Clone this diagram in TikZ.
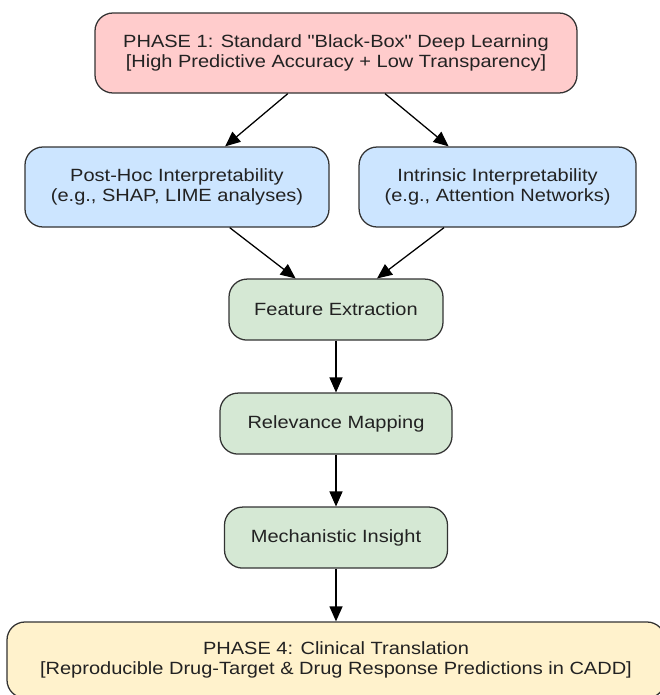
\documentclass[tikz,border=0pt]{standalone}
\usepackage{fontspec}
\setmainfont[FakeStretch=1.13,Ligatures=TeXOff]{Liberation Sans}
\usepackage{tikz}
\usetikzlibrary{arrows.meta}
\definecolor{edge}{HTML}{333333}
\definecolor{txt}{HTML}{222222}
\definecolor{pinkbg}{HTML}{FFCCCC}
\definecolor{bluebg}{HTML}{CCE5FF}
\definecolor{greenbg}{HTML}{D5E8D4}
\definecolor{yellowbg}{HTML}{FFF2CC}
\tikzstyle{box} = [draw=edge, line width=0.9pt, rounded corners=0.45cm, align=center, inner sep=0pt, text=txt, font={\fontsize{12.6}{14.2}\selectfont}]
\tikzstyle{phase} = [box, fill=pinkbg, minimum height=2cm]
\tikzstyle{interp} = [box, fill=bluebg, minimum height=2cm]
\tikzstyle{stage} = [box, fill=greenbg, minimum height=1.525cm]
\tikzstyle{clinic} = [box, fill=yellowbg, minimum height=1.9cm]
\tikzstyle{link} = [->, line width=0.9pt, black]

\begin{document}
\begin{tikzpicture}[>={Triangle[length=0.375cm,width=0.325cm]}]
        \useasboundingbox[fill=white] (0,0) rectangle (16.475,-17.375);
        \node[phase,minimum width=12.05cm](p1) at (8.4,-1.325){PHASE 1: Standard "Black-Box" Deep Learning\\{}[High Predictive Accuracy + Low Transparency]};
        \node[interp,minimum width=7.6cm](post) at (4.425,-4.675){Post-Hoc Interpretability\\(e.g., SHAP, LIME analyses)};
        \node[interp,minimum width=6.925cm](intr) at (12.44,-4.675){Intrinsic Interpretability\\(e.g., Attention Networks)};
        \node[stage,minimum width=5.35cm](feat) at (8.4,-7.74){Feature Extraction};
        \node[stage,minimum width=5.8cm](rel) at (8.4,-10.59){Relevance Mapping};
        \node[stage,minimum width=5.575cm](mech) at (8.4,-13.44){Mechanistic Insight};
        \node[clinic,minimum width=16.45cm](p4) at (8.4,-16.5){PHASE 4: Clinical Translation\\{}[Reproducible Drug-Target \& Drug Response Predictions in CADD]};
        \draw[link](p1)--(post);
        \draw[link](p1)--(intr);
        \draw[link](post)--(feat);
        \draw[link](intr)--(feat);
        \draw[link](feat)--(rel);
        \draw[link](rel)--(mech);
        \draw[link](mech)--(p4);
      \end{tikzpicture}
\end{document}
